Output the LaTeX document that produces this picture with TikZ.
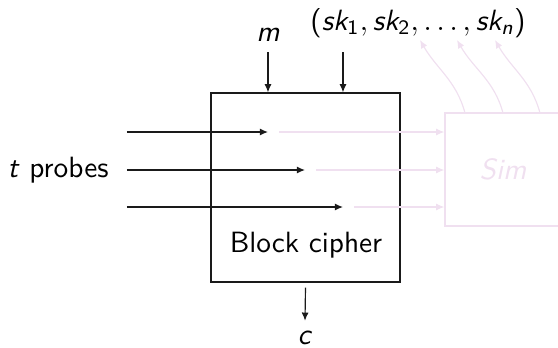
\documentclass[tikz,border=0pt]{standalone}
\usepackage{amsmath}
\usepackage{tikz}
\usetikzlibrary{positioning,arrows.meta}
\definecolor{ink}{HTML}{1A1A1A}
\definecolor{simfaint}{HTML}{F0E0F0}
\tikzset{
  flecha/.style={-{Latex[length=2.8pt,width=2.4pt]},color=ink},
  flechasim/.style={-{Latex[length=2.8pt,width=2.4pt]},color=simfaint},
}

\begin{document}
\begin{tikzpicture}[x=0.012cm,y=0.012cm,font=\sffamily,
  bloque/.style={draw=ink,minimum width=2.268cm,minimum height=2.268cm,inner sep=0pt},
  simbox/.style={draw=simfaint,text=simfaint,minimum width=1.392cm,minimum height=1.356cm,inner sep=0pt}]
  \useasboundingbox (0,0) rectangle (558,347);
  \node[bloque] (cipher) at (305.5,159.5) {};
  \node[anchor=base] (blk) at (306,95) {Block cipher};
  \node[simbox] (sim) at (503,177.5) {\textit{Sim}};
  \node (m) at (268,312) {\textit{m}};
  \node (keys) at (418,324) {$\text{(}\textit{sk}_{\text{1}},\textit{sk}_{\text{2}},\ldots,\textit{sk}_{\textit{n}}\text{)}$};
  \node (probes) at (58,177) {\textit{t} probes};
  \node (c) at (305,9) {\textit{c}};
  % entradas y salida
  \coordinate (kin) at (343,295);
  \draw[flecha] (m.south) -- (m.south |- cipher.north);
  \draw[flecha] (kin) -- (kin |- cipher.north);
  \draw[flecha] ([yshift=-1.7pt]cipher.south) -- (c.north);
  % sondas
  \coordinate (p1) at (127,215);
  \coordinate (p2) at (127,177);
  \coordinate (p3) at (127,140);
  \coordinate (q1) at (268,215);
  \coordinate (q2) at (305,177);
  \coordinate (q3) at (343,140);
  \coordinate (r1) at (279,215);
  \coordinate (r2) at (316,177);
  \coordinate (r3) at (354,140);
  \draw[flecha] (p1) -- (q1);
  \draw[flecha] (p2) -- (q2);
  \draw[flecha] (p3) -- (q3);
  \draw[flechasim] (r1) -- (r1 -| sim.west);
  \draw[flechasim] (r2) -- (r2 -| sim.west);
  \draw[flechasim] (r3) -- (r3 -| sim.west);
  % claves simuladas
  \coordinate (s1) at (465,234);
  \coordinate (s2) at (503,234);
  \coordinate (s3) at (540,234);
  \coordinate (k1) at (420,307);
  \coordinate (k2) at (457,307);
  \coordinate (k3) at (495,307);
  \draw[flechasim] (s1) to[out=105,in=-60] (k1);
  \draw[flechasim] (s2) to[out=105,in=-60] (k2);
  \draw[flechasim] (s3) to[out=105,in=-60] (k3);
\end{tikzpicture}
\end{document}
